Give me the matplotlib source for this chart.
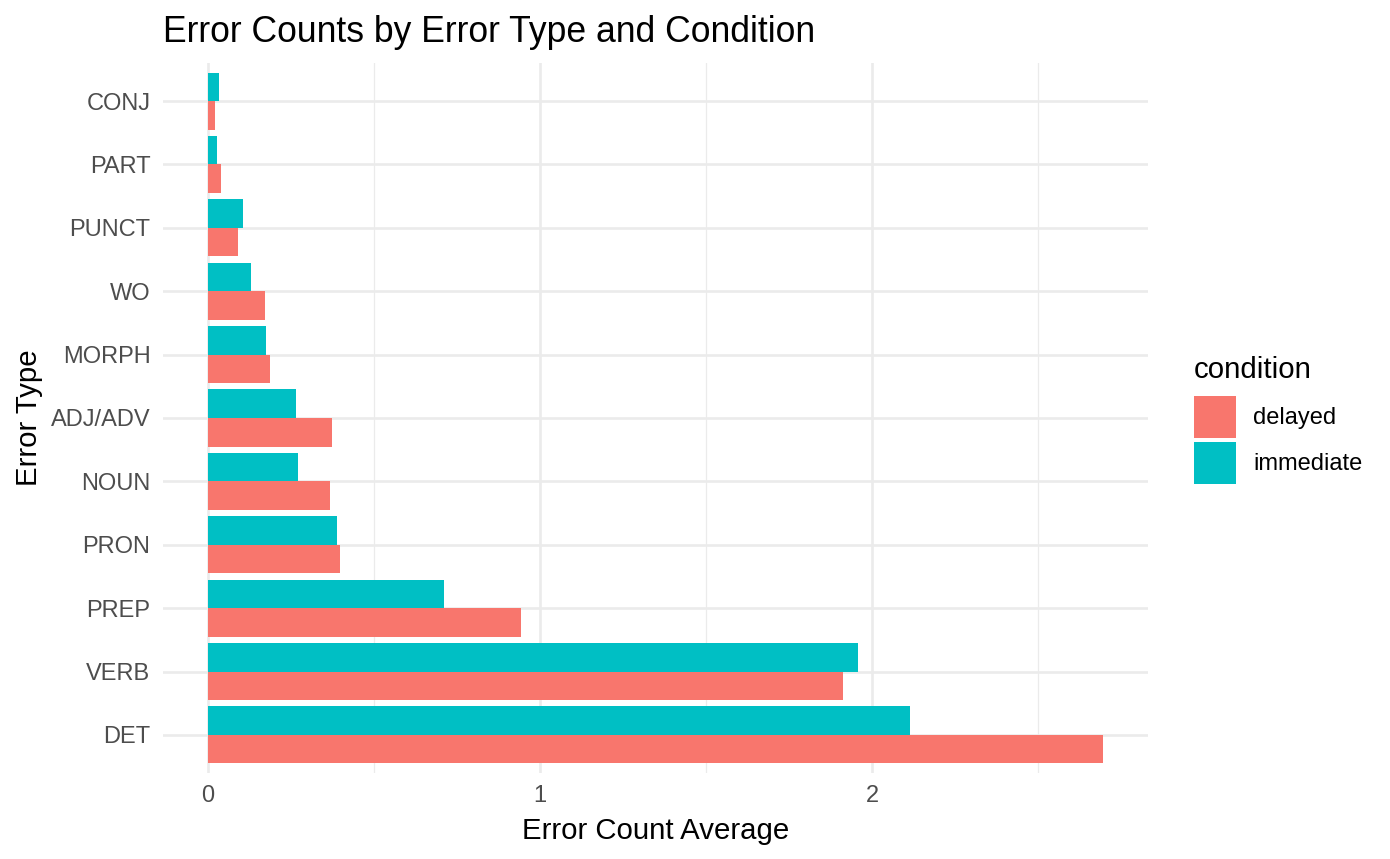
import numpy as np
import matplotlib
matplotlib.use("Agg")
import matplotlib.pyplot as plt
from matplotlib.patches import Patch

plt.rcParams['font.family'] = ['Liberation Sans', 'DejaVu Sans']

# 数据
error_types = ['DET', 'VERB', 'PREP', 'PRON', 'NOUN', 'ADJ/ADV', 'MORPH', 'WO', 'PUNCT', 'PART', 'CONJ']
delayed = [2.696, 1.913, 0.943, 0.398, 0.367, 0.373, 0.187, 0.172, 0.090, 0.039, 0.021]
immediate = [2.114, 1.958, 0.711, 0.389, 0.271, 0.265, 0.175, 0.129, 0.105, 0.027, 0.033]
conditions = ['delayed', 'immediate']
colors = ['#F8766D', '#00BFC4']

fig = plt.figure(figsize=(13.9, 8.59), dpi=100)
ax = fig.add_axes([163 / 1390, 86 / 859, 985 / 1390, 710 / 859])

y = np.arange(len(error_types))
h = 0.45
ax.barh(y - h / 2, delayed, height=h, color=colors[0], zorder=2)
ax.barh(y + h / 2, immediate, height=h, color=colors[1], zorder=2)

# 坐标范围（ggplot 默认 5% 扩展）
xmax = max(max(delayed), max(immediate))
ax.set_xlim(-0.05 * xmax, 1.05 * xmax)
ax.set_ylim(-0.6, len(error_types) - 0.4)

ax.set_xticks([0, 1, 2])
ax.set_xticks([0.5, 1.5, 2.5], minor=True)
ax.set_yticks(y)
ax.set_yticklabels(error_types)

ax.grid(True, which='major', color='#EBEBEB', linewidth=1.9, zorder=0)
ax.grid(True, which='minor', axis='x', color='#EBEBEB', linewidth=0.9, zorder=0)
ax.tick_params(which='both', length=0)
ax.tick_params(axis='y', pad=9, labelsize=17, labelcolor='#4D4D4D')
ax.tick_params(axis='x', pad=9, labelsize=17, labelcolor='#4D4D4D')
for s in ax.spines.values():
    s.set_visible(False)

ax.set_xlabel('Error Count Average', fontsize=21.2, labelpad=7)
ax.set_ylabel('Error Type', fontsize=21.2, labelpad=6)
ax.set_title('Error Counts by Error Type and Condition', loc='left', fontsize=25.6, pad=15)

handles = [Patch(facecolor=c, edgecolor='none') for c in colors]
leg = fig.legend(handles, conditions, title='condition',
                 loc='center left', bbox_to_anchor=(1194 / 1390, 1 - 420 / 859),
                 frameon=False, fontsize=17, title_fontsize=21.2,
                 handlelength=1.78, handleheight=2.356, labelspacing=0.17,
                 handletextpad=0.72, borderaxespad=0, borderpad=0)
leg._legend_box.align = 'left'
leg._legend_box.sep = 8.7  # 标题与图例项之间留多一点空

fig.savefig('out.png', dpi=100)
